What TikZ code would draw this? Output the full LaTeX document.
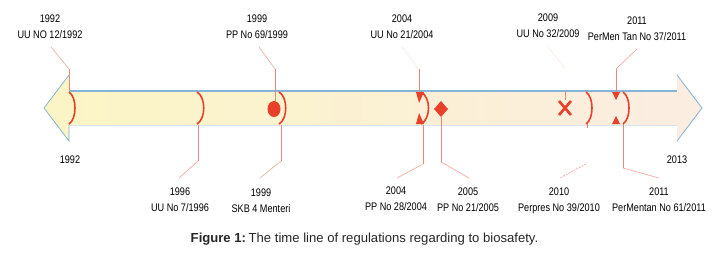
\documentclass[tikz,border=0pt]{standalone}
\usepackage{fontspec}
\setmainfont{Liberation Sans}
\newfontfamily\labfont{Liberation Sans}[FakeStretch=0.83]
\definecolor{mred}{HTML}{E8402A}
\definecolor{lead}{HTML}{E38A7C}
\definecolor{leadl}{HTML}{F2ADA2}
\definecolor{ablue}{HTML}{86B3D6}
\definecolor{abot}{HTML}{D6E4EE}
\definecolor{yel}{HTML}{FBF5C6}
\definecolor{pea}{HTML}{FBEDE0}
\definecolor{mid}{HTML}{FBF2D6}
\begin{document}
\begin{tikzpicture}[x=1pt,y=-1pt,
  lab/.style={font=\labfont\fontsize{11}{13}\selectfont, anchor=base, inner sep=0pt},
  brk/.style={draw=mred, line width=1.6pt},
  vlead/.style={draw=lead, line width=0.9pt},
  dlead/.style={draw=leadl, line width=0.7pt},
  faint/.style={draw=leadl!70!white, line width=0.6pt, densely dotted}]
\useasboundingbox (0,0) rectangle (725,255);
% shaft
\shade[left color=yel, middle color=mid, right color=pea] (69,91) rectangle (677,125);
\fill[yel] (69,75) -- (44,108) -- (69,141) -- cycle;
\fill[pea] (677,75) -- (702,108) -- (677,141) -- cycle;
\draw[ablue, line width=0.8pt] (69,75) -- (44,108) -- (69,141) -- (69,125);
\draw[ablue, line width=0.8pt] (677,75) -- (702,108) -- (677,141);
\draw[ablue, line width=1.3pt] (69,91) -- (677,91);
\draw[abot, line width=1pt] (69,125) -- (677,125);
% coordinates
\coordinate (m92) at (69,91);   \coordinate (b92) at (69,69);   \coordinate (e92) at (51,47);
\coordinate (m96) at (198,125); \coordinate (b96) at (198,161); \coordinate (e96) at (179,178);
\coordinate (m99a) at (275,101); \coordinate (b99a) at (275,69); \coordinate (e99a) at (259,47);
\coordinate (m99b) at (281,125); \coordinate (b99b) at (281,161); \coordinate (e99b) at (260,178);
\coordinate (m04a) at (419,92); \coordinate (b04a) at (419,69); \coordinate (e04a) at (402,47);
\coordinate (m04b) at (423,125); \coordinate (b04b) at (423,164); \coordinate (e04b) at (397,178);
\coordinate (m05) at (441,117); \coordinate (b05) at (441,162); \coordinate (e05) at (469,178);
\coordinate (m09) at (565,100); \coordinate (s09) at (565,91); \coordinate (b09) at (565,68); \coordinate (e09) at (548,47);
\coordinate (m10) at (587,122); \coordinate (s10) at (587,128); \coordinate (b10) at (586,164); \coordinate (e10) at (560,178);
\coordinate (m11a) at (616,92); \coordinate (b11a) at (616,69); \coordinate (e11a) at (637,49);
\coordinate (m11b) at (623,124); \coordinate (b11b) at (623,168); \coordinate (e11b) at (659,178);
% leaders
\draw[vlead] (m92) -- (b92);   \draw[dlead] (b92) -- (e92);
\draw[vlead] (m96) -- (b96);   \draw[dlead] (b96) -- (e96);
\draw[vlead] (m99a) -- (b99a); \draw[dlead] (b99a) -- (e99a);
\draw[vlead] (m99b) -- (b99b); \draw[dlead] (b99b) -- (e99b);
\draw[vlead] (m04a) -- (b04a); \draw[faint] (b04a) -- (e04a);
\draw[vlead] (m04b) -- (b04b); \draw[dlead] (b04b) -- (e04b);
\draw[vlead] (m05) -- (b05);   \draw[dlead] (b05) -- (e05);
\draw[vlead] (s09) -- (m09);   \draw[faint] (b09) -- (e09);
\draw[vlead] (m10) -- (s10);   \draw[dlead, dashed, dash pattern=on 2pt off 1pt] (b10) -- (e10);
\draw[vlead] (m11a) -- (b11a); \draw[dlead] (b11a) -- (e11a);
\draw[vlead] (m11b) -- (b11b); \draw[dlead] (b11b) -- (e11b);
% markers
\draw[brk] (69,92) .. controls (77,97) and (77,119) .. (69,124);
\draw[brk] (197,92) .. controls (206,97) and (206,119) .. (197,124);
\draw[brk] (279,92) .. controls (288,97) and (288,119) .. (279,124);
\draw[brk] (421,92) .. controls (431,97) and (431,119) .. (421,124);
\draw[brk] (586,92) .. controls (594,97) and (594,119) .. (586,124);
\draw[brk] (623,92) .. controls (631,97) and (631,119) .. (623,124);
\fill[mred] (274,109) ellipse [x radius=6.5pt, y radius=8pt];
\fill[mred] (441,101) -- (448,109) -- (441,117) -- (434,109) -- cycle;
\draw[mred, line width=2.6pt] (559,101) -- (571,115) (559,115) -- (571,101);
\fill[mred] (416,92) -- (424,92) -- (419,103) -- cycle;
\fill[mred] (416,124) -- (424,124) -- (419,113) -- cycle;
\fill[mred] (612,92) -- (620,92) -- (616,100) -- cycle;
\fill[mred] (612,124) -- (620,124) -- (616,116) -- cycle;
% labels
\node[lab] (t92y) at (50,22) {1992};
\node[lab] (t92n) at (50,38) {UU NO 12/1992};
\node[lab] (t99y) at (257,22) {1999};
\node[lab] (t99n) at (257,38) {PP No 69/1999};
\node[lab] (t04y) at (402,22) {2004};
\node[lab] (t04n) at (402,38) {UU No 21/2004};
\node[lab] (t09y) at (548,21) {2009};
\node[lab] (t09n) at (548,37) {UU No 32/2009};
\node[lab] (t11y) at (637,24) {2011};
\node[lab] (t11n) at (637,40) {PerMen Tan No 37/2011};
\node[lab] (s92) at (70,163) {1992};
\node[lab] (s13) at (677,163) {2013};
\node[lab] (u96y) at (180,195) {1996};
\node[lab] (u96n) at (180,211) {UU No 7/1996};
\node[lab] (u99y) at (261,196) {1999};
\node[lab] (u99n) at (261,212) {SKB 4 Menteri};
\node[lab] (u04y) at (396,194) {2004};
\node[lab] (u04n) at (396,210) {PP No 28/2004};
\node[lab] (u05y) at (468,195) {2005};
\node[lab] (u05n) at (468,211) {PP No 21/2005};
\node[lab] (u10y) at (559,195) {2010};
\node[lab] (u10n) at (559,211) {Perpres No 39/2010};
\node[lab] (u11y) at (659,195) {2011};
\node[lab] (u11n) at (659,211) {PerMentan No 61/2011};
\node[anchor=base, inner sep=0pt, font=\fontsize{13.1}{16}\selectfont, text=black!85] (cap) at (364.5,242)
  {\textbf{Figure 1:}\hspace{0.2em}The time line of regulations regarding to biosafety.};
\end{tikzpicture}
\end{document}
